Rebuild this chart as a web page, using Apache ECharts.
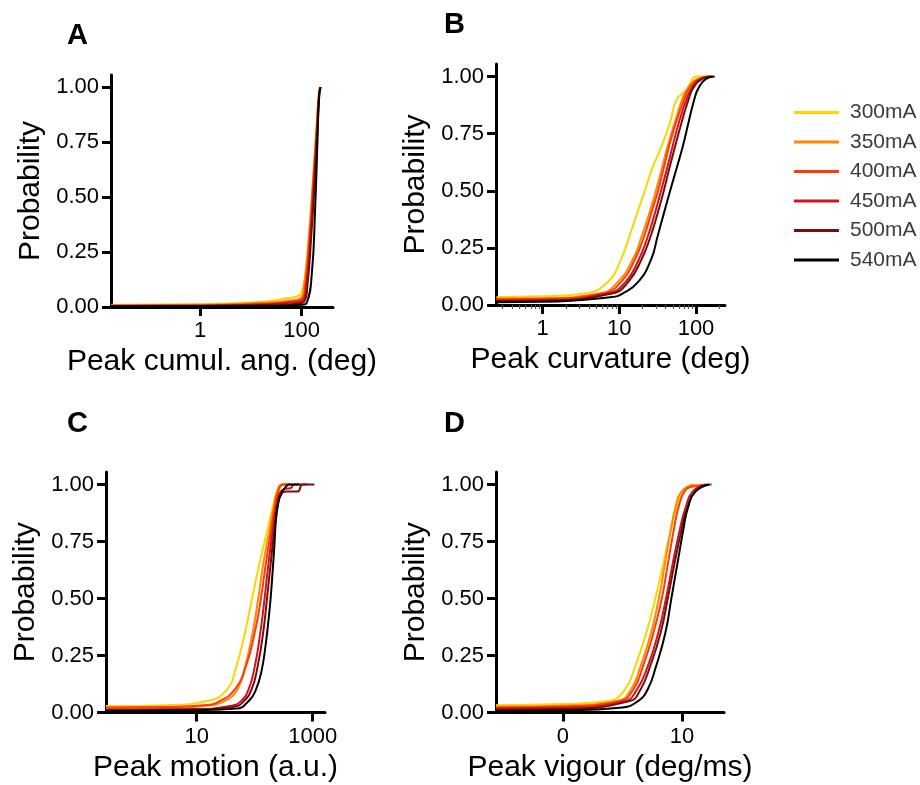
<!DOCTYPE html>
<html>
<head>
<meta charset="utf-8">
<title>Peak kinematics by stimulus current</title>
<script src="https://cdn.jsdelivr.net/npm/echarts@6/dist/echarts.min.js"></script>
<style>
  html, body { margin: 0; padding: 0; background: #fff; }
  #chart { width: 920px; height: 785px; }
</style>
</head>
<body>
<div id="chart"></div>
<script>
// Stimulus currents and their line colours
const currents = ['300mA', '350mA', '400mA', '450mA', '500mA', '540mA'];
const currentColors = ['#FFD400', '#FF8A00', '#FF3B0A', '#D0141E', '#7A0C0C', '#000000'];

// Cumulative distributions, one [value, probability] list per current

// A: peak cumulative angle (deg)
const cumulAngle = [
  [[0.0178,0.010],[1,0.012],[20,0.025],[50,0.04],[85,0.05],[100,0.07],[117,0.15],[144,0.37],[170,0.6],[198,0.83],[218,0.97],[228,1]],
  [[0.0178,0.008],[1,0.010],[20,0.02],[60,0.03],[95,0.04],[112,0.1],[140,0.33],[166,0.57],[194,0.8],[216,0.96],[230,1]],
  [[0.0178,0.006],[1,0.008],[20,0.015],[60,0.025],[100,0.035],[118,0.1],[145,0.33],[170,0.57],[197,0.8],[218,0.96],[231,1]],
  [[0.0178,0.005],[1,0.006],[20,0.012],[60,0.02],[105,0.03],[123,0.1],[150,0.33],[175,0.57],[200,0.8],[220,0.96],[233,1]],
  [[0.0178,0.004],[1,0.005],[30,0.01],[80,0.015],[112,0.025],[130,0.1],[155,0.33],[180,0.57],[203,0.8],[222,0.96],[235,1]],
  [[0.0178,0.003],[1,0.004],[40,0.006],[100,0.01],[126,0.02],[158,0.15],[184,0.45],[204,0.75],[221,0.97],[237,1]]
];

// B: peak curvature (deg)
const curvature = [
  [[0.25,0.035],[1,0.038],[3.5,0.05],[7,0.1],[10.5,0.2],[13.5,0.3],[17,0.4],[21.5,0.5],[27,0.6],[36,0.7],[46,0.8],[56,0.9],[75,0.94],[90,0.99],[100,1],[140,1]],
  [[0.25,0.028],[1,0.03],[5.5,0.05],[9.5,0.1],[15,0.2],[19.5,0.3],[24.5,0.4],[30,0.5],[36,0.6],[43,0.7],[53,0.8],[66,0.9],[78,0.95],[105,0.99],[150,1]],
  [[0.25,0.025],[1,0.027],[6,0.05],[10.5,0.1],[16,0.2],[21,0.3],[26,0.4],[32,0.5],[38,0.6],[45,0.7],[55,0.8],[70,0.9],[82,0.95],[110,0.99],[155,1]],
  [[0.25,0.02],[1,0.022],[7,0.05],[12,0.1],[18,0.2],[23.5,0.3],[29,0.4],[35,0.5],[42,0.6],[50,0.7],[60,0.8],[75,0.9],[88,0.95],[115,0.99],[160,1]],
  [[0.25,0.017],[1,0.019],[8,0.05],[13,0.1],[19.5,0.2],[25.5,0.3],[31.5,0.4],[38,0.5],[45,0.6],[54,0.7],[65,0.8],[80,0.9],[92,0.95],[120,0.99],[165,1]],
  [[0.25,0.012],[1,0.014],[8,0.035],[11,0.05],[17.5,0.1],[26,0.2],[31.5,0.3],[38,0.4],[46,0.5],[56,0.6],[68,0.7],[80,0.8],[95,0.9],[108,0.95],[135,0.99],[175,1]]
];

// C: peak motion (a.u.)
const motion = [
  [[0.273,0.028],[3,0.032],[15,0.05],[33,0.1],[48,0.2],[68,0.35],[90,0.5],[120,0.65],[165,0.8],[205,0.9],[240,0.97],[290,1],[370,1]],
  [[0.273,0.018],[3,0.02],[15,0.03],[30,0.05],[50,0.1],[68,0.2],[92,0.35],[115,0.5],[140,0.65],[180,0.8],[212,0.9],[245,0.97],[300,1],[420,1]],
  [[0.273,0.022],[3,0.024],[15,0.033],[25,0.05],[45,0.1],[70,0.2],[100,0.35],[128,0.5],[155,0.65],[192,0.8],[222,0.9],[255,0.97],[310,1],[450,1]],
  [[0.273,0.012],[10,0.015],[40,0.03],[58,0.05],[78,0.1],[100,0.2],[125,0.35],[148,0.5],[172,0.65],[205,0.8],[232,0.9],[265,0.96],[320,0.98],[420,0.985],[480,1],[800,1]],
  [[0.273,0.01],[10,0.013],[45,0.025],[65,0.05],[88,0.1],[112,0.2],[140,0.35],[163,0.5],[188,0.65],[218,0.8],[245,0.9],[290,0.96],[345,0.97],[550,0.97],[670,1],[1070,1]],
  [[0.273,0.007],[10,0.01],[48,0.017],[81,0.054],[105,0.1],[132,0.186],[155,0.3],[172,0.4],[188,0.5],[204,0.62],[218,0.73],[232,0.84],[255,0.92],[284,0.96],[345,0.99],[380,1],[600,1]]
];

// D: peak vigour (deg/ms)
const vigour = [
  [[-5.62,0.032],[0,0.037],[3.8,0.05],[5.2,0.1],[6.05,0.2],[7.0,0.35],[7.75,0.5],[8.4,0.65],[9.05,0.8],[9.55,0.9],[10.2,0.97],[11.3,1]],
  [[-5.62,0.025],[0,0.03],[4.6,0.05],[5.7,0.1],[6.5,0.2],[7.4,0.35],[8.05,0.5],[8.55,0.65],[9.05,0.8],[9.45,0.9],[9.95,0.97],[11.0,1]],
  [[-5.62,0.022],[0,0.026],[4.8,0.05],[5.9,0.1],[6.7,0.2],[7.6,0.35],[8.3,0.5],[8.8,0.65],[9.3,0.8],[9.7,0.9],[10.2,0.97],[10.8,0.99],[12.5,1]],
  [[-5.62,0.018],[0,0.021],[5.2,0.05],[6.2,0.1],[7.1,0.2],[8.0,0.35],[8.65,0.5],[9.2,0.65],[9.8,0.8],[10.3,0.9],[10.9,0.97],[12.0,1]],
  [[-5.62,0.012],[0,0.015],[5.6,0.05],[6.5,0.1],[7.3,0.2],[8.2,0.35],[8.8,0.5],[9.35,0.65],[9.95,0.8],[10.45,0.9],[11.1,0.97],[12.2,1]],
  [[-5.62,0.007],[0,0.009],[5.0,0.022],[6.3,0.05],[7.1,0.1],[7.8,0.2],[8.6,0.35],[9.1,0.5],[9.6,0.65],[10.1,0.8],[10.5,0.9],[11.15,0.97],[12.3,1]]
];

// Axis ticks
const probTicks = [0, 0.25, 0.5, 0.75, 1];
const angleTicks = [1, 100];
const curvatureTicks = [1, 10, 100];
const curvatureMinorTicks = [0.3,0.4,0.5,0.6,0.7,0.8,0.9,2,3,4,5,6,7,8,9,20,30,40,50,60,70,80,90,200];
const motionTicks = [10, 1000];
const vigourTicks = [0, 10];

const FONT = 'Liberation Sans, Arial, Helvetica, sans-serif';
const INK = '#000';

const panels = [
  { letter: 'A', grid: { left: 111, top: 75, width: 222, height: 232 },
    xType: 'log', xMin: 0.0177, xMax: 413, ticks: angleTicks,
    xName: 'Peak cumul. ang. (deg)', data: cumulAngle },
  { letter: 'B', grid: { left: 496, top: 64, width: 229, height: 241 },
    xType: 'log', xMin: 0.246, xMax: 239, ticks: curvatureTicks,
    xName: 'Peak curvature (deg)', data: curvature, minor: curvatureMinorTicks },
  { letter: 'C', grid: { left: 106, top: 472, width: 219, height: 240.5 },
    xType: 'log', xMin: 0.273, xMax: 1630, ticks: motionTicks,
    xName: 'Peak motion (a.u.)', data: motion },
  { letter: 'D', grid: { left: 496, top: 472, width: 228, height: 240.5 },
    xType: 'value', xMin: -5.62, xMax: 13.52, ticks: vigourTicks,
    xName: 'Peak vigour (deg/ms)', data: vigour }
];

const letterPos = { A: [79, 37], B: [456, 26], C: [79, 425], D: [456, 425] };

const grids = [], xAxes = [], yAxes = [], series = [], graphics = [];

panels.forEach((p, gi) => {
  grids.push(Object.assign({ containLabel: false }, p.grid));
  const mainX = xAxes.length;
  xAxes.push({
    type: p.xType, gridIndex: gi, position: 'bottom', min: p.xMin, max: p.xMax,
    logBase: 10,
    name: p.xName, nameLocation: 'middle', nameGap: 40,
    nameTextStyle: { fontFamily: FONT, fontSize: 30, color: INK },
    axisLine: { onZero: false, lineStyle: { color: INK, width: 3 } },
    axisTick: { show: true, customValues: p.ticks, length: 9, inside: false,
                lineStyle: { color: INK, width: 3 } },
    axisLabel: { customValues: p.ticks, margin: 13, fontFamily: FONT, fontSize: 22, color: INK,
                 formatter: v => String(Math.round(v)) },
    splitLine: { show: false }, minorTick: { show: false }
  });
  if (p.minor) {
    // short unlabeled ticks at 2..9 within each decade
    xAxes.push({
      type: p.xType, gridIndex: gi, position: 'bottom', min: p.xMin, max: p.xMax, logBase: 10,
      axisLine: { show: false, onZero: false },
      axisTick: { show: true, inside: false, customValues: p.minor, length: 4,
                  lineStyle: { color: '#555', width: 1.2 } },
      axisLabel: { show: false }, splitLine: { show: false }
    });
  }
  yAxes.push({
    type: 'value', gridIndex: gi, min: 0, max: 1.055,
    name: 'Probability', nameLocation: 'middle', nameGap: 65,
    nameTextStyle: { fontFamily: FONT, fontSize: 30, color: INK },
    axisLine: { show: true, onZero: false, lineStyle: { color: INK, width: 3 } },
    axisTick: { show: true, customValues: probTicks, length: 9,
                lineStyle: { color: INK, width: 3 } },
    axisLabel: { customValues: probTicks, margin: 12, fontFamily: FONT, fontSize: 22, color: INK,
                 formatter: v => v.toFixed(2) },
    splitLine: { show: false }
  });
  p.data.forEach((curve, si) => {
    series.push({
      name: currents[si], type: 'line', xAxisIndex: mainX, yAxisIndex: gi,
      data: curve, showSymbol: false, symbol: 'none',
      smooth: 0.5, silent: true, clip: false,
      lineStyle: { color: currentColors[si], width: 2 },
      itemStyle: { color: currentColors[si] },
      z: 2 + si
    });
  });
  const lp = letterPos[p.letter];
  graphics.push({
    type: 'text', left: lp[0] - 12, top: lp[1] - 16,
    style: { text: p.letter, fontFamily: FONT, fontSize: 29, fontWeight: 'bold', fill: INK }
  });
});

const chart = echarts.init(document.getElementById('chart'), null, { renderer: 'canvas' });
chart.setOption({
  animation: false,
  backgroundColor: '#fff',
  grid: grids,
  xAxis: xAxes,
  yAxis: yAxes,
  series: series,
  graphic: graphics,
  legend: {
    data: currents, orient: 'vertical', left: 789, top: 97,
    icon: 'rect', itemWidth: 45, itemHeight: 3, itemGap: 8.5,
    textStyle: { fontFamily: FONT, fontSize: 21, color: '#3c3c3c', padding: [0, 0, 0, 6] },
    selectedMode: false
  }
});
</script>
</body>
</html>
